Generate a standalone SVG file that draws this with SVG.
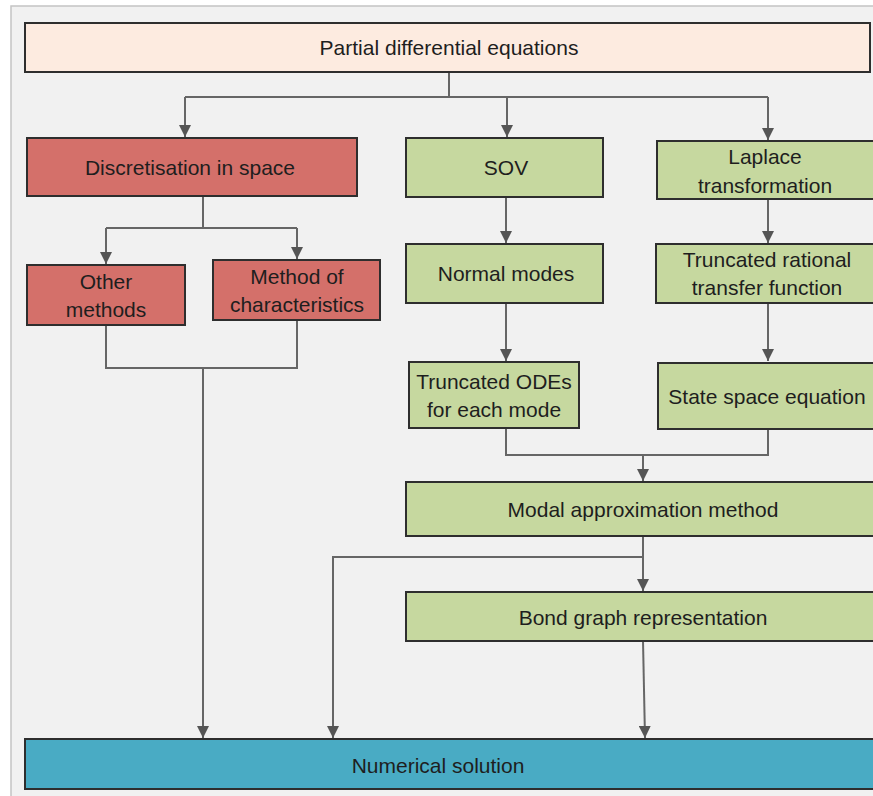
<svg xmlns="http://www.w3.org/2000/svg" width="873" height="796" viewBox="0 0 873 796">
<style>
.box{stroke:#2e2e2e;stroke-width:2}
.peach{fill:#fdebe0}
.red{fill:#d4706a}
.green{fill:#c6d89f}
.blue{fill:#49abc4}
.t{font-family:"Liberation Sans",Arial,sans-serif;font-size:21px;fill:#1e1e1e;text-anchor:middle;dominant-baseline:central}
.c{fill:none;stroke:#666;stroke-width:2}
</style>
<defs>
<marker id="ah" viewBox="0 0 10 10" refX="10" refY="5" markerWidth="6" markerHeight="6" orient="auto" markerUnits="strokeWidth">
<path d="M0,0 L10,5 L0,10 z" fill="#555"/>
</marker>
</defs>
<rect x="0" y="0" width="873" height="796" fill="#ffffff"/>
<rect x="11" y="6" width="880" height="800" fill="#f1f1f1" stroke="#c4c4c4" stroke-width="1.5"/>

<g id="connectors">
<path class="c" d="M449,72 V97 M185,97 H768"/>
<path class="c" d="M185,97 V137" marker-end="url(#ah)"/>
<path class="c" d="M507,97 V137" marker-end="url(#ah)"/>
<path class="c" d="M768,97 V140" marker-end="url(#ah)"/>
<path class="c" d="M203,196 V228 M106,228 H297"/>
<path class="c" d="M106,228 V264" marker-end="url(#ah)"/>
<path class="c" d="M297,228 V259" marker-end="url(#ah)"/>
<path class="c" d="M106,325 V368 H297 V320"/>
<path class="c" d="M203,368 V738" marker-end="url(#ah)"/>
<path class="c" d="M506,197 V243" marker-end="url(#ah)"/>
<path class="c" d="M768,199 V243" marker-end="url(#ah)"/>
<path class="c" d="M506,303 V361" marker-end="url(#ah)"/>
<path class="c" d="M768,303 V361" marker-end="url(#ah)"/>
<path class="c" d="M506,428 V455 H768 V429"/>
<path class="c" d="M643,455 V481" marker-end="url(#ah)"/>
<path class="c" d="M643,536 V591" marker-end="url(#ah)"/>
<path class="c" d="M643,557 H333 V738" marker-end="url(#ah)"/>
<path class="c" d="M643,641 L645,738" marker-end="url(#ah)"/>
</g>

<g id="pde">
<rect class="box peach" x="25" y="23" width="845" height="49"/>
<text class="t" x="449" y="47">Partial differential equations</text>
</g>
<g id="discretisation">
<rect class="box red" x="27" y="138" width="330" height="58"/>
<text class="t" x="190" y="167">Discretisation in space</text>
</g>
<g id="sov">
<rect class="box green" x="406" y="138" width="197" height="59"/>
<text class="t" x="506" y="167">SOV</text>
</g>
<g id="laplace">
<rect class="box green" x="657" y="141" width="220" height="58"/>
<text class="t" x="765" y="156">Laplace</text>
<text class="t" x="765" y="185">transformation</text>
</g>
<g id="other">
<rect class="box red" x="27" y="265" width="158" height="60"/>
<text class="t" x="106" y="281">Other</text>
<text class="t" x="106" y="309">methods</text>
</g>
<g id="characteristics">
<rect class="box red" x="213" y="260" width="167" height="60"/>
<text class="t" x="297" y="276">Method of</text>
<text class="t" x="297" y="304">characteristics</text>
</g>
<g id="normal">
<rect class="box green" x="406" y="244" width="197" height="59"/>
<text class="t" x="506" y="273">Normal modes</text>
</g>
<g id="rational">
<rect class="box green" x="656" y="244" width="220" height="59"/>
<text class="t" x="767" y="259">Truncated rational</text>
<text class="t" x="767" y="287">transfer function</text>
</g>
<g id="odes">
<rect class="box green" x="409" y="362" width="170" height="66"/>
<text class="t" x="494" y="381">Truncated ODEs</text>
<text class="t" x="494" y="409">for each mode</text>
</g>
<g id="statespace">
<rect class="box green" x="658" y="363" width="220" height="66"/>
<text class="t" x="767" y="396">State space equation</text>
</g>
<g id="modal">
<rect class="box green" x="406" y="482" width="470" height="54"/>
<text class="t" x="643" y="509">Modal approximation method</text>
</g>
<g id="bond">
<rect class="box green" x="406" y="592" width="470" height="49"/>
<text class="t" x="643" y="617">Bond graph representation</text>
</g>
<g id="numerical">
<rect class="box blue" x="25" y="739" width="851" height="50"/>
<text class="t" x="438" y="765">Numerical solution</text>
</g>
</svg>
